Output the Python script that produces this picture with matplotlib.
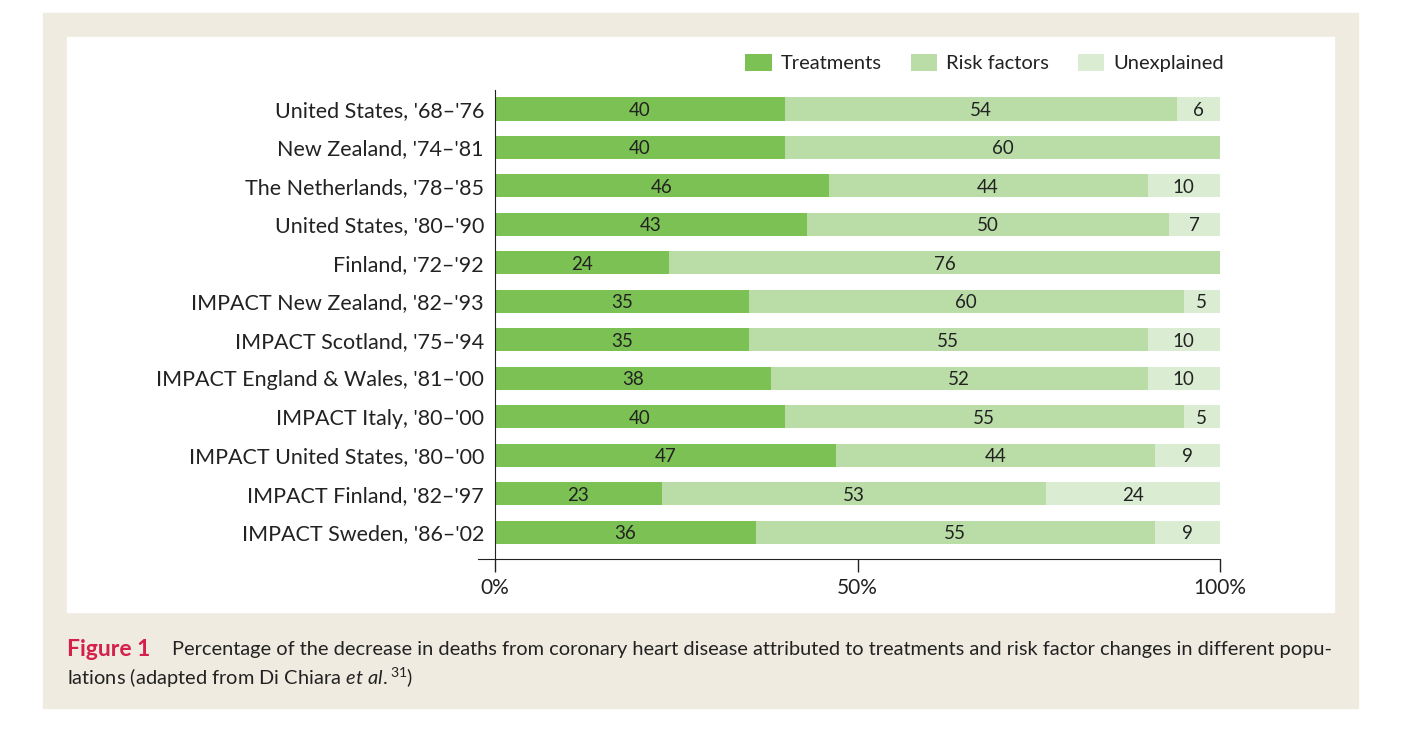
import matplotlib
matplotlib.use("Agg")
import matplotlib.pyplot as plt
import matplotlib.patches as mpatches

plt.rcParams['font.family'] = ['Lato', 'DejaVu Sans']
plt.rcParams['mathtext.fontset'] = 'custom'
plt.rcParams['mathtext.rm'] = 'Lato'
plt.rcParams['mathtext.it'] = 'Lato:italic'

labels = ["United States, '68\u2013'76", "New Zealand, '74\u2013'81", "The Netherlands, '78\u2013'85",
          "United States, '80\u2013'90", "Finland, '72\u2013'92", "IMPACT New Zealand, '82\u2013'93",
          "IMPACT Scotland, '75\u2013'94", "IMPACT England & Wales, '81\u2013'00", "IMPACT Italy, '80\u2013'00",
          "IMPACT United States, '80\u2013'00", "IMPACT Finland, '82\u2013'97", "IMPACT Sweden, '86\u2013'02"]
treatments = [40, 40, 46, 43, 24, 35, 35, 38, 40, 47, 23, 36]
risk_factors = [54, 60, 44, 50, 76, 60, 55, 52, 55, 44, 53, 55]
unexplained = [6, 0, 10, 7, 0, 5, 10, 10, 5, 9, 24, 9]
series = ["Treatments", "Risk factors", "Unexplained"]
colors = ['#7bc153', '#badda7', '#daedd2']

fig = plt.figure(figsize=(14.06, 7.53), dpi=100)
fig.patch.set_facecolor('white')
W, H = 1406, 753
# beige frame and white inner panel
fig.patches.append(mpatches.Rectangle((43/W, 1-708/H), (1358-43)/W, (708-13)/H,
                                      transform=fig.transFigure, color='#efebe0', zorder=-2))
fig.patches.append(mpatches.Rectangle((67/W, 1-612/H), (1334-67)/W, (612-37)/H,
                                      transform=fig.transFigure, color='white', zorder=-1))

ax = fig.add_axes([495/W, 1-559/H, 725/W, (559-90)/H])
ax.set_facecolor('none')
y = list(range(len(labels)))
data = [treatments, risk_factors, unexplained]
left = [0]*len(labels)
for k in range(3):
    ax.barh(y, data[k], left=left, height=0.6, color=colors[k], label=series[k])
    for i in range(len(labels)):
        v = data[k][i]
        if v > 0:
            ax.text(left[i] + v/2, y[i], str(v), ha='center', va='center_baseline',
                    fontsize=13.5, color='#222222')
    left = [left[i] + data[k][i] for i in range(len(labels))]

ax.set_xlim(0, 100)
ax.set_ylim(11.70, -0.494)
ax.set_yticks(y)
ax.set_yticklabels(labels, fontsize=15.5, color='#222222')
ax.tick_params(axis='y', length=0, pad=8)
ax.set_xticks([0, 50, 100])
ax.set_xticklabels(['0%', '50%', '100%'], fontsize=15, color='#222222')
ax.tick_params(axis='x', length=9, width=1, pad=5, color='#222222')
for s in ['top', 'right']:
    ax.spines[s].set_visible(False)
ax.spines['left'].set_color('#222222')
ax.spines['bottom'].set_color('#222222')
ax.spines['bottom'].set_bounds(-2.3, 100)
ax.spines['bottom'].set_clip_on(False)

leg = ax.legend(ncol=3, loc='center right', bbox_to_anchor=(1.0 + 4/725, 1.0 + 27/469), frameon=False,
                fontsize=14.5, handlelength=1.3, handleheight=0.95, columnspacing=1.45,
                handletextpad=0.45, borderpad=0.0, borderaxespad=0.0)
for t in leg.get_texts():
    t.set_color('#222222')

fig.text(67/W, 1-650/H, "Figure 1", fontsize=16.5, fontweight='bold', color='#d4204a', va='center')
fig.text(172/W, 1-650/H, "Percentage of the decrease in deaths from coronary heart disease attributed to treatments and risk factor changes in different popu-",
         fontsize=14.4, color='#222222', va='center')
fig.text(67/W, 1-678/H, r"lations (adapted from Di Chiara $\mathit{et\ al.}^{31}$)", fontsize=14.4,
         color='#222222', va='center')

fig.savefig('out.png', dpi=100, facecolor='white')
